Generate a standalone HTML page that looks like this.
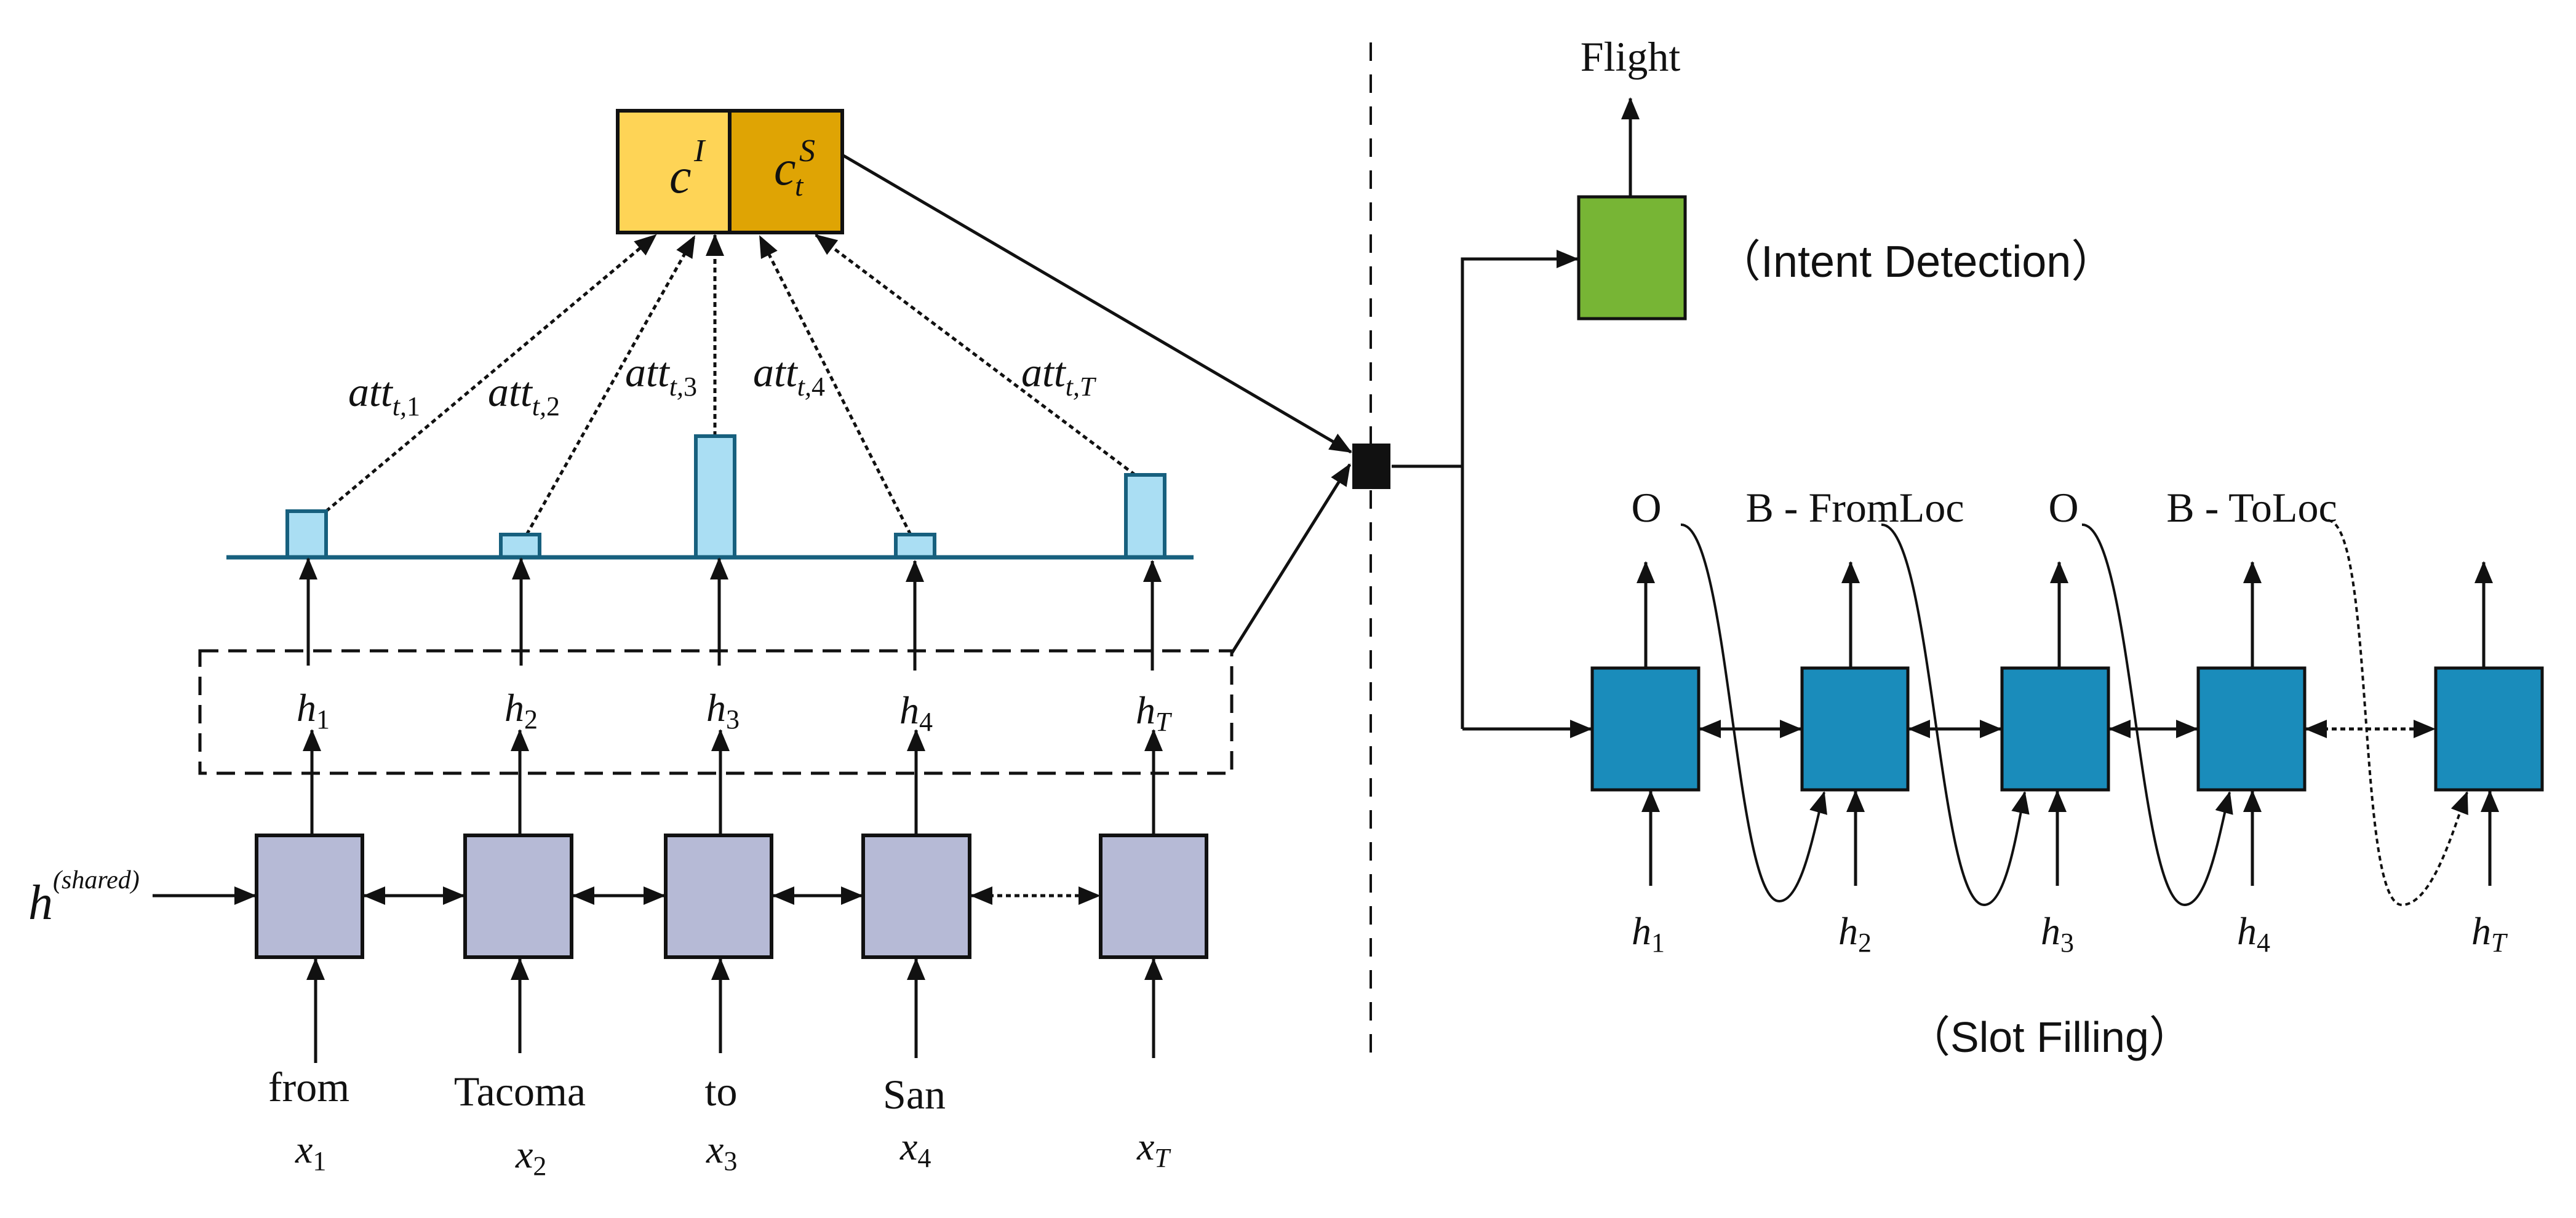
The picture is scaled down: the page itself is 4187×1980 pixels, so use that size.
<!DOCTYPE html>
<html><head><meta charset="utf-8"><style>
html,body{margin:0;padding:0;background:#fff}
svg{display:block}
.m{font-family:"Liberation Serif",serif;font-style:italic}
.r{font-family:"Liberation Serif",serif}
.s{font-family:"Liberation Sans",sans-serif}
</style></head><body>
<svg width="4187" height="1980" viewBox="0 0 4187 1980" xmlns="http://www.w3.org/2000/svg">
<defs>
<marker id="a" markerUnits="userSpaceOnUse" markerWidth="36" markerHeight="30" refX="34" refY="15" orient="auto"><path d="M0,0 L36,15 L0,30 z" fill="#111"/></marker>
<marker id="b" markerUnits="userSpaceOnUse" markerWidth="36" markerHeight="30" refX="2" refY="15" orient="auto"><path d="M36,0 L0,15 L36,30 z" fill="#111"/></marker>
</defs>
<g stroke="#111" stroke-width="5" fill="none">
<rect x="1004" y="180" width="182" height="198" fill="#fed456" stroke-width="6"/>
<rect x="1186" y="180" width="183" height="198" fill="#dfa404" stroke-width="6"/>
<g stroke-dasharray="8,6" marker-end="url(#a)">
<line x1="530" y1="831" x2="1066" y2="382"/>
<line x1="856" y1="869" x2="1129" y2="384"/>
<line x1="1162" y1="709" x2="1162" y2="382"/>
<line x1="1480" y1="869" x2="1235" y2="384"/>
<line x1="1845" y1="772" x2="1326" y2="382"/>
</g>
<g fill="#aadef3" stroke="#17607e" stroke-width="6">
<rect x="467" y="831" width="63" height="75"/>
<rect x="814" y="869" width="63" height="37"/>
<rect x="1131" y="709" width="63" height="197"/>
<rect x="1456" y="869" width="63" height="37"/>
<rect x="1830" y="772" width="63" height="134"/>
</g>
<line x1="368" y1="906" x2="1940" y2="906" stroke="#17607e" stroke-width="7"/>
<g marker-end="url(#a)">
<line x1="501" y1="1082" x2="501" y2="908"/>
<line x1="847" y1="1082" x2="847" y2="908"/>
<line x1="1169" y1="1082" x2="1169" y2="908"/>
<line x1="1487" y1="1090" x2="1487" y2="912"/>
<line x1="1873" y1="1090" x2="1873" y2="912"/>
</g>
<rect x="325" y="1058" width="1677" height="199" stroke-dasharray="30,16"/>
<g marker-end="url(#a)">
<line x1="507" y1="1358" x2="507" y2="1187"/>
<line x1="845" y1="1358" x2="845" y2="1187"/>
<line x1="1171" y1="1358" x2="1171" y2="1187"/>
<line x1="1489" y1="1365" x2="1489" y2="1187"/>
<line x1="1875" y1="1365" x2="1875" y2="1187"/>
</g>
<g fill="#b6bad6" stroke-width="6">
<rect x="417" y="1358" width="172" height="198"/>
<rect x="756" y="1358" width="173" height="198"/>
<rect x="1082" y="1358" width="172" height="198"/>
<rect x="1403" y="1358" width="173" height="198"/>
<rect x="1789" y="1358" width="172" height="198"/>
</g>
<line x1="248" y1="1456" x2="415" y2="1456" marker-end="url(#a)"/>
<g marker-start="url(#b)" marker-end="url(#a)">
<line x1="592" y1="1456" x2="754" y2="1456"/>
<line x1="932" y1="1456" x2="1080" y2="1456"/>
<line x1="1257" y1="1456" x2="1401" y2="1456"/>
<line x1="1579" y1="1456" x2="1787" y2="1456" stroke-dasharray="8,6"/>
</g>
<g marker-end="url(#a)">
<line x1="513" y1="1728" x2="513" y2="1559"/>
<line x1="845" y1="1712" x2="845" y2="1559"/>
<line x1="1171" y1="1712" x2="1171" y2="1559"/>
<line x1="1489" y1="1720" x2="1489" y2="1559"/>
<line x1="1875" y1="1720" x2="1875" y2="1559"/>
</g>
<line x1="1371" y1="253" x2="2196" y2="735" marker-end="url(#a)"/>
<line x1="2002" y1="1062" x2="2194" y2="755" marker-end="url(#a)"/>
<line x1="2228" y1="69" x2="2228" y2="1718" stroke-dasharray="30,22" stroke-width="4"/>
<rect x="2198" y="721" width="62" height="74" fill="#111" stroke="none"/>
<polyline points="2262,758 2377,758"/>
<polyline points="2377,1185 2377,421 2564,421" marker-end="url(#a)"/>
<line x1="2377" y1="1185" x2="2586" y2="1185" marker-end="url(#a)"/>
<rect x="2566" y="320" width="173" height="198" fill="#77b535" stroke-width="5"/>
<line x1="2650" y1="318" x2="2650" y2="160" marker-end="url(#a)"/>
<g fill="#1a8cbb" stroke-width="5">
<rect x="2588" y="1086" width="173" height="198"/>
<rect x="2929" y="1086" width="172" height="198"/>
<rect x="3254" y="1086" width="173" height="198"/>
<rect x="3573" y="1086" width="173" height="198"/>
<rect x="3959" y="1086" width="173" height="198"/>
</g>
<g marker-start="url(#b)" marker-end="url(#a)">
<line x1="2763" y1="1185" x2="2927" y2="1185"/>
<line x1="3103" y1="1185" x2="3252" y2="1185"/>
<line x1="3429" y1="1185" x2="3571" y2="1185"/>
<line x1="3748" y1="1185" x2="3957" y2="1185" stroke-dasharray="8,6"/>
</g>
<g marker-end="url(#a)">
<line x1="2675" y1="1086" x2="2675" y2="914"/>
<line x1="3008" y1="1086" x2="3008" y2="914"/>
<line x1="3347" y1="1086" x2="3347" y2="914"/>
<line x1="3661" y1="1086" x2="3661" y2="914"/>
<line x1="4037" y1="1086" x2="4037" y2="914"/>
<line x1="2683" y1="1440" x2="2683" y2="1286"/>
<line x1="3016" y1="1440" x2="3016" y2="1286"/>
<line x1="3344" y1="1440" x2="3344" y2="1286"/>
<line x1="3661" y1="1440" x2="3661" y2="1286"/>
<line x1="4047" y1="1440" x2="4047" y2="1286"/>
</g>
<g stroke-width="4" marker-end="url(#a)">
<path d="M2732,853 C2810,850 2820,1465 2892,1465 C2930,1465 2950,1340 2965,1288"/>
<path d="M3058,853 C3140,850 3150,1471 3225,1471 C3262,1471 3280,1340 3291,1288"/>
<path d="M3384,853 C3465,850 3475,1471 3551,1471 C3590,1471 3610,1340 3624,1288"/>
<path d="M3784,846 C3860,850 3830,1471 3904,1471 C3955,1471 3990,1340 4010,1288" stroke-dasharray="8,6"/>
</g>
</g>
<g fill="#111">
<text class="m" x="1088" y="313" font-size="80">c</text><text class="m" x="1128" y="262" font-size="52">I</text>
<text class="m" x="1258" y="300" font-size="80">c</text><text class="m" x="1299" y="262" font-size="52">S</text><text class="m" x="1292" y="318" font-size="48">t</text>
<g class="m" font-size="68">
<text x="566" y="660">att<tspan font-size="44" dy="15">t,</tspan><tspan font-style="normal" font-size="44">1</tspan></text>
<text x="793" y="660">att<tspan font-size="44" dy="15">t,</tspan><tspan font-style="normal" font-size="44">2</tspan></text>
<text x="1016" y="628">att<tspan font-size="44" dy="15">t,</tspan><tspan font-style="normal" font-size="44">3</tspan></text>
<text x="1224" y="628">att<tspan font-size="44" dy="15">t,</tspan><tspan font-style="normal" font-size="44">4</tspan></text>
<text x="1660" y="628">att<tspan font-size="44" dy="15">t,T</tspan></text>
</g>
<g class="m" font-size="64">
<text x="482" y="1172">h<tspan font-style="normal" font-size="44" dy="12">1</tspan></text>
<text x="820" y="1172">h<tspan font-style="normal" font-size="44" dy="12">2</tspan></text>
<text x="1148" y="1172">h<tspan font-style="normal" font-size="44" dy="12">3</tspan></text>
<text x="1462" y="1176">h<tspan font-style="normal" font-size="44" dy="12">4</tspan></text>
<text x="1846" y="1176">h<tspan font-size="44" dy="12">T</tspan></text>
<text x="46" y="1494" font-size="80">h<tspan font-size="42" dy="-50">(shared)</tspan></text>
<text x="480" y="1890">x<tspan font-style="normal" font-size="44" dy="12">1</tspan></text>
<text x="838" y="1898">x<tspan font-style="normal" font-size="44" dy="12">2</tspan></text>
<text x="1148" y="1890">x<tspan font-style="normal" font-size="44" dy="12">3</tspan></text>
<text x="1463" y="1885">x<tspan font-style="normal" font-size="44" dy="12">4</tspan></text>
<text x="1848" y="1885">x<tspan font-size="44" dy="12">T</tspan></text>
</g>
<g class="r" font-size="68" text-anchor="middle">
<text x="502" y="1790">from</text>
<text x="845" y="1797">Tacoma</text>
<text x="1172" y="1797">to</text>
<text x="1486" y="1802">San</text>
<text x="2650" y="115">Flight</text>
<text x="2676" y="848">O</text>
<text x="3015" y="848">B - FromLoc</text>
<text x="3354" y="848">O</text>
<text x="3660" y="848">B - ToLoc</text>
</g>
<text class="s" x="2790" y="450" font-size="72">（Intent Detection）</text>
<text class="s" x="3100" y="1710" font-size="70">（Slot Filling）</text>
<g class="m" font-size="64">
<text x="2652" y="1535">h<tspan font-style="normal" font-size="44" dy="12">1</tspan></text>
<text x="2988" y="1535">h<tspan font-style="normal" font-size="44" dy="12">2</tspan></text>
<text x="3317" y="1535">h<tspan font-style="normal" font-size="44" dy="12">3</tspan></text>
<text x="3636" y="1535">h<tspan font-style="normal" font-size="44" dy="12">4</tspan></text>
<text x="4017" y="1535">h<tspan font-size="44" dy="12">T</tspan></text>
</g>
</g>
</svg>
</body></html>
